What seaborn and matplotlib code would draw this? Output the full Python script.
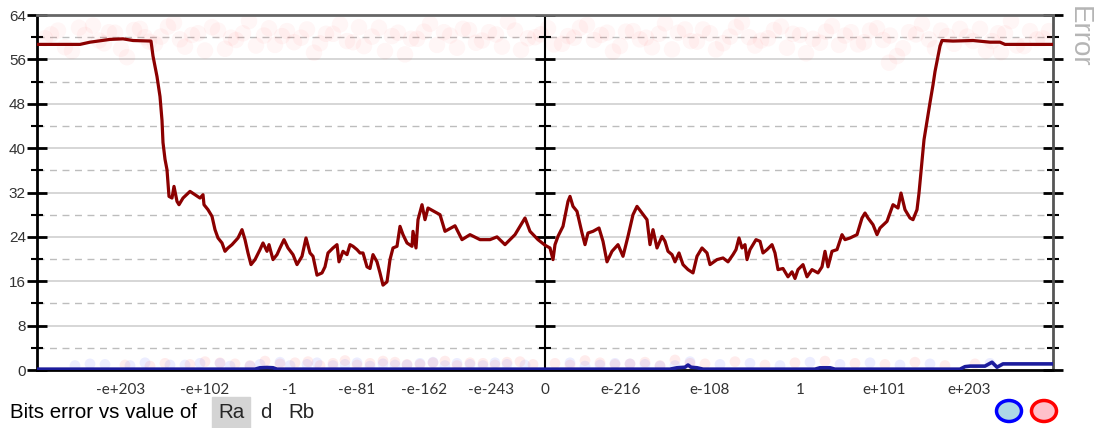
import matplotlib
matplotlib.use('Agg')
import matplotlib.pyplot as plt
from matplotlib.patches import Ellipse, Rectangle
import seaborn as sns
import pandas as pd

# x = position along the value axis (0 = zero, +-508 = ends), y = bits of error
tick_pos = [-424, -340, -256, -188, -121, -54, 0, 76, 165, 255, 339, 424]
tick_labels = ['-e+203', '-e+102', '-1', '-e-81', '-e-162', '-e-243', '0',
               'e-216', 'e-108', '1', 'e+101', 'e+203']

red_x = [-508, -465, -455, -435, -422, -412, -394, -392, -388, -385, -383, -382,
         -380, -378, -376, -373, -371, -368, -366, -362, -355, -350, -345, -342,
         -341, -337, -333, -330, -327, -323, -320, -317, -313, -310, -307, -303,
         -300, -297, -294, -290, -285, -282, -278, -276, -272, -268, -265, -261,
         -257, -252, -248, -243, -239, -235, -232, -228, -223, -220, -217, -212,
         -208, -206, -202, -198, -195, -192, -188, -185, -182, -178, -175, -172,
         -168, -165, -162, -158, -155, -152, -148, -145, -142, -138, -133, -132,
         -129, -127, -123, -120, -117, -115, -105, -100, -90, -83, -75, -65, -55,
         -48, -40, -30, -20, -15, -7, 0,
         5, 8, 10, 13, 18, 23, 25, 28, 32, 37, 40, 43, 48, 54, 58, 62, 67, 73, 78,
         83, 88, 92, 97, 102, 105, 108, 112, 117, 120, 123, 127, 130, 134, 138,
         143, 148, 152, 157, 162, 165, 172, 178, 183, 188, 191, 194, 197, 200, 202,
         205, 211, 215, 218, 222, 227, 230, 233, 238, 243, 247, 250, 253, 258, 262,
         267, 273, 277, 280, 283, 287, 292, 297, 300, 305, 312, 317, 320, 323, 328,
         332, 335, 342, 348, 353, 356, 360, 365, 368, 372, 374, 379, 385, 388, 390,
         393, 395, 397, 408, 428, 445, 455, 460, 508]
red_y = [58.7, 58.7, 59.1, 59.6, 59.7, 59.4, 59.3, 56.6, 52.9, 49.3, 45.0, 41.0,
         38.0, 36.1, 31.3, 31.0, 33.1, 30.4, 29.8, 31.0, 32.2, 31.6, 31.0, 31.6,
         29.8, 28.9, 27.7, 25.3, 23.8, 22.9, 21.4, 22.0, 22.6, 23.2, 23.8, 25.3,
         23.5, 21.1, 19.0, 19.9, 21.7, 22.9, 21.4, 22.6, 19.9, 20.8, 22.0, 23.5,
         22.0, 20.8, 19.0, 20.5, 23.8, 21.1, 20.5, 17.1, 17.5, 18.6, 21.1, 22.0,
         22.6, 19.5, 21.4, 20.8, 22.6, 22.3, 21.7, 21.1, 21.1, 18.6, 18.3, 20.8,
         19.5, 17.5, 15.3, 15.9, 19.9, 22.0, 22.3, 25.9, 24.4, 22.9, 22.3, 25.0,
         22.0, 27.1, 29.8, 27.1, 29.2, 29.0, 28.0, 25.0, 26.0, 23.5, 24.4, 23.5,
         23.5, 24.0, 22.6, 24.4, 27.4, 25.0, 23.5, 22.5,
         22.0, 19.9, 22.6, 24.1, 25.9, 30.4, 31.3, 29.5, 28.6, 24.7, 22.6, 24.7,
         25.0, 25.6, 23.2, 19.5, 21.4, 22.6, 20.5, 24.1, 28.0, 29.5, 28.3, 27.1,
         22.6, 25.3, 22.0, 24.1, 23.2, 21.4, 20.8, 19.5, 21.1, 19.0, 18.1, 17.5,
         20.5, 22.0, 21.1, 19.0, 19.9, 20.2, 19.5, 20.8, 21.7, 23.8, 22.0, 22.6,
         19.9, 21.7, 23.5, 23.2, 21.1, 21.7, 22.6, 21.1, 18.1, 18.3, 16.8, 17.7,
         16.5, 18.1, 19.0, 16.8, 18.1, 17.5, 18.6, 21.4, 18.6, 21.4, 21.7, 24.4,
         23.5, 23.8, 24.4, 27.4, 28.3, 27.4, 26.2, 24.4, 25.6, 26.8, 29.8, 29.2,
         31.9, 28.9, 27.4, 27.1, 28.9, 31.9, 41.5, 48.2, 51.4, 53.8, 56.6, 58.4,
         59.4, 59.3, 59.4, 59.1, 59.1, 58.7, 58.7]

blue_x = [-508, -290, -285, -278, -272, -268, 125, 132, 140, 143, 146, 152, 158,
          270, 275, 285, 290, 415, 420, 425, 440, 447, 452, 458, 508]
blue_y = [0.15, 0.15, 0.4, 0.45, 0.4, 0.15, 0.15, 0.4, 0.5, 0.9, 0.5, 0.4, 0.15,
          0.15, 0.4, 0.4, 0.15, 0.15, 0.6, 0.7, 0.7, 1.4, 0.5, 1.1, 1.1]

# faint cloud of individual samples near the top
top_x = [-500, -487, -473, -460, -452, -441, -430, -418, -405, -396,
         -384, -371, -360, -347, -333, -320, -309, -296, -281, -270,
         -258, -244, -231, -219, -205, -192, -181, -166, -153, -140,
         -128, -115, -101, -88, -76, -63, -49, -37, -24, -10,
         3, 17, 29, 42, 56, 68, 81, 95, 107, 120,
         133, 146, 158, 171, 185, 197, 210, 223, 236, 248,
         261, 275, 287, 300, 313, 325, 338, 352, 364, 377,
         390, 402, 415, 428, 441, 453, 466, 479, 492, 504,
         -494, -480, -466, -446, -436, -424, -411, -400, -390, -377,
         -365, -353, -340, -327, -314, -302, -289, -276, -263, -251,
         -238, -225, -212, -198, -186, -173, -160, -147, -134, -121,
         -108, -95, -82, -69, -56, -43, -30, -17, -4, 9,
         23, 35, 49, 62, 75, 88, 101, 114, 127, 140,
         152, 165, 178, 191, 204, 216, 229, 242, 255, 268,
         281, 294, 306, 319, 332, 345, 358, 371, 384, 396,
         409, 422, 435, 447, 460, 472, 485, 498, 456, 344]
top_y = [59.8, 61.2, 57.5, 60.4, 62.1, 58.9, 60.8, 56.4, 61.5, 59.2,
         60.1, 62.6, 58.3, 60.7, 61.8, 57.9, 59.5, 62.9, 60.3, 58.6,
         61.1, 59.9, 57.2, 60.6, 62.3, 59.1, 58.4, 61.7, 60.2, 56.9,
         59.7, 62.4, 60.9, 58.1, 61.3, 59.4, 60.5, 62.8, 57.7, 60.0,
         61.6, 58.8, 59.9, 62.2, 60.4, 57.4, 61.0, 59.6, 58.2, 62.5,
         60.8, 59.3, 61.4, 57.8, 60.1, 62.7, 58.5, 59.8, 61.9, 60.6,
         57.1, 59.0, 62.0, 60.3, 58.7, 61.2, 59.5, 56.6, 60.9, 62.4,
         58.0, 60.2, 61.5, 59.3, 57.6, 60.7, 62.9, 58.4, 59.6, 61.1,
         60.5, 58.2, 61.7, 59.4, 60.9, 57.9, 61.3, 60.0, 58.8, 61.9,
         59.6, 60.4, 57.6, 61.2, 59.9, 60.7, 58.5, 61.6, 60.2, 59.1,
         61.4, 58.9, 60.6, 59.3, 61.8, 60.1, 57.5, 60.8, 59.7, 61.0,
         58.6, 60.3, 61.5, 59.0, 60.9, 58.3, 61.2, 59.8, 60.5, 58.7,
         60.2, 61.7, 59.5, 60.8, 58.4, 61.1, 59.9, 60.6, 57.8, 61.4,
         59.2, 60.7, 58.9, 61.8, 60.0, 59.4, 61.3, 58.1, 60.4, 59.7,
         61.0, 58.6, 60.9, 59.1, 61.6, 60.3, 58.0, 60.5, 59.6, 61.2,
         58.8, 60.1, 61.5, 59.3, 60.7, 58.5, 61.1, 59.8, 57.3, 55.4]

# faint cloud near zero
low_red_x = [-420, -380, -340, -310, -280, -250, -225, -200, -175, -150,
             -125, -100, -75, -50, -25, 10, 40, 70, 100, 130,
             160, 190, 220, 250, 280, 310, 340, 370, 400, 430,
             -395, -355, -325, -295, -265, -237, -212, -188, -162, -138,
             -112, -88, -62, -38, -12, 25, 55, 85, 115, 145]
low_red_y = [0.9, 1.2, 1.5, 1.1, 1.6, 1.3, 0.8, 1.7, 1.2, 1.4,
             1.0, 1.6, 1.3, 0.9, 1.5, 1.2, 1.7, 1.0, 1.4, 1.8,
             1.1, 1.5, 0.9, 1.3, 1.6, 1.2, 1.0, 1.4, 0.8, 1.1,
             0.7, 1.0, 1.3, 0.8, 1.1, 1.5, 1.2, 0.9, 1.6, 1.0,
             1.3, 0.8, 1.2, 1.4, 1.0, 0.9, 1.3, 1.1, 0.8, 1.2]
low_blue_x = [-470, -440, -400, -360, -325, -295, -265, -238, -212, -188,
              -162, -138, -112, -88, -62, -38, 25, 55, 85, 115,
              145, 175, 205, 235, 265, 295, 325, 355, 385, 445,
              -455, -415, -375, -345, -315, -285, -255, -228, -200, -175,
              -150, -125, -100, -75, -50, -20, 40, 70, 100, 130]
low_blue_y = [0.8, 1.0, 1.3, 0.9, 1.2, 0.7, 1.4, 1.0, 0.8, 1.3,
              1.1, 0.9, 1.4, 1.2, 0.8, 1.0, 1.3, 0.9, 1.1, 0.7,
              1.5, 1.0, 1.2, 0.8, 1.4, 1.0, 1.3, 0.9, 1.1, 1.2,
              1.1, 0.8, 0.9, 1.2, 0.7, 1.0, 0.8, 1.3, 1.0, 0.7,
              0.9, 1.2, 0.8, 1.0, 1.3, 0.9, 0.7, 1.2, 1.0, 0.8]

major_y = list(range(0, 65, 8))
minor_y = list(range(4, 64, 8))

sns.set_style('white')
plt.rcParams['font.family'] = ['Liberation Sans', 'DejaVu Sans']

fig = plt.figure(figsize=(10.97, 4.28), dpi=100)
ax = fig.add_axes([37 / 1097, 1 - 370 / 428, 1016 / 1097, 355 / 428])

for yv in major_y[1:-1]:
    ax.axhline(yv, color='#cfcfcf', lw=1.2, zorder=0)
for yv in minor_y:
    ax.axhline(yv, color='#bdbdbd', lw=1.0, ls=(0, (5, 4)), zorder=0)

sns.scatterplot(x=top_x, y=top_y, color='#ff3030', alpha=0.045, s=140,
                edgecolor='none', ax=ax, zorder=1)
sns.scatterplot(x=low_red_x, y=low_red_y, color='#ff3030', alpha=0.09, s=60,
                edgecolor='none', ax=ax, zorder=1)
sns.scatterplot(x=low_blue_x, y=low_blue_y, color='#3040ff', alpha=0.09, s=60,
                edgecolor='none', ax=ax, zorder=1)

red_df = pd.DataFrame({'x': red_x, 'y': red_y})
blue_df = pd.DataFrame({'x': blue_x, 'y': blue_y})
sns.lineplot(data=red_df, x='x', y='y', color='#8b0000', lw=2.3, sort=False,
             ax=ax, zorder=3)
sns.lineplot(data=blue_df, x='x', y='y', color='#1c1c9c', lw=2.6, sort=False,
             ax=ax, zorder=3)

# centre line with its own ticks
ax.axvline(0, color='black', lw=1.5, zorder=2)
ax.plot([0] * len(major_y), major_y, ls='none', marker='_', ms=14, mew=2,
        color='black', zorder=2)
ax.plot([0] * len(minor_y), minor_y, ls='none', marker='_', ms=8, mew=1.5,
        color='black', zorder=2)

ax.set_xlim(-508, 508)
ax.set_ylim(0, 64)
ax.set_xticks(tick_pos)
ax.set_xticklabels(tick_labels, fontfamily='Lato', color='#333333')
ax.set_yticks(major_y)
ax.set_yticks(minor_y, minor=True)
ax.set_yticklabels([str(v) for v in major_y], color='#333333')
ax.tick_params(axis='x', direction='inout', length=14, width=2, color='black',
               labelsize=11, pad=2)
ax.tick_params(axis='y', which='major', direction='inout', length=14, width=2,
               color='black', labelsize=11, right=True, left=True, pad=1)
ax.tick_params(axis='y', which='minor', direction='inout', length=8, width=1.5,
               color='black', right=True, left=True)
ax.set_xlabel('')
ax.set_ylabel('')

ax.spines['left'].set_color('black')
ax.spines['left'].set_linewidth(2)
ax.spines['bottom'].set_color('black')
ax.spines['bottom'].set_linewidth(2)
ax.spines['top'].set_color('#666666')
ax.spines['top'].set_linewidth(2)
ax.spines['right'].set_color('#555555')
ax.spines['right'].set_linewidth(2)

fig.text(1079 / 1097, 1 - 6 / 428, 'Error', rotation=-90, ha='center', va='top',
         color='#b5b5b5', fontsize=20)

# caption with selector
fig.text(10 / 1097, 1 - 413 / 428, 'Bits error vs value of', va='center',
         fontsize=14.8, color='black')
fig.patches.append(Rectangle((212 / 1097, 0), 38 / 1097, 31 / 428,
                             transform=fig.transFigure, color='#d4d4d4'))
fig.text(231 / 1097, 1 - 413 / 428, 'Ra', va='center', ha='center', fontsize=14.8)
fig.text(266 / 1097, 1 - 413 / 428, 'd', va='center', ha='center', fontsize=14.8)
fig.text(301 / 1097, 1 - 413 / 428, 'Rb', va='center', ha='center', fontsize=14.8)

fig.patches.append(Ellipse((1009 / 1097, 1 - 411 / 428), 25 / 1097, 21 / 428,
                           transform=fig.transFigure, facecolor='#add8e6',
                           edgecolor='#0000ff', lw=2.5))
fig.patches.append(Ellipse((1044 / 1097, 1 - 411 / 428), 25 / 1097, 21 / 428,
                           transform=fig.transFigure, facecolor='#ffc0cb',
                           edgecolor='#ff0000', lw=2.5))

fig.savefig('out.png', dpi=100)
